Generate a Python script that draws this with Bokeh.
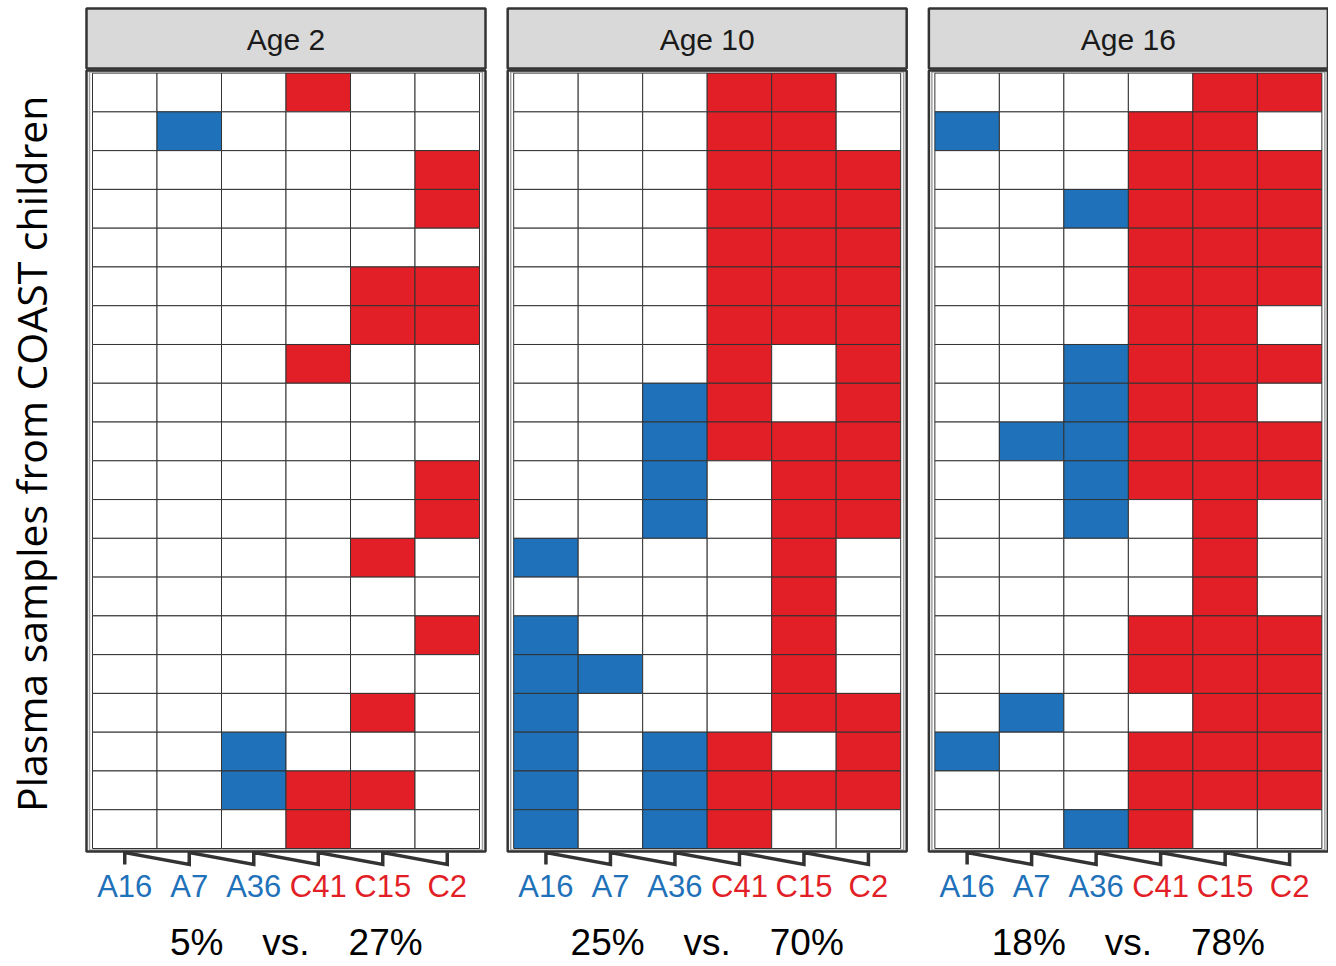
import numpy as np
from bokeh.plotting import figure
from bokeh.models import Range1d, BoxAnnotation, Label, ColumnDataSource
from bokeh.embed import file_html
from bokeh.resources import INLINE

# ---------------- data ----------------
antigens = ["A16", "A7", "A36", "C41", "C15", "C2"]
antigen_group = ["A", "A", "A", "C", "C", "C"]
panel_titles = ["Age 2", "Age 10", "Age 16"]

# rows listed top to bottom (20 plasma samples), columns follow `antigens`; 1 = positive
age2 = [
    [0, 0, 0, 1, 0, 0],
    [0, 1, 0, 0, 0, 0],
    [0, 0, 0, 0, 0, 1],
    [0, 0, 0, 0, 0, 1],
    [0, 0, 0, 0, 0, 0],
    [0, 0, 0, 0, 1, 1],
    [0, 0, 0, 0, 1, 1],
    [0, 0, 0, 1, 0, 0],
    [0, 0, 0, 0, 0, 0],
    [0, 0, 0, 0, 0, 0],
    [0, 0, 0, 0, 0, 1],
    [0, 0, 0, 0, 0, 1],
    [0, 0, 0, 0, 1, 0],
    [0, 0, 0, 0, 0, 0],
    [0, 0, 0, 0, 0, 1],
    [0, 0, 0, 0, 0, 0],
    [0, 0, 0, 0, 1, 0],
    [0, 0, 1, 0, 0, 0],
    [0, 0, 1, 1, 1, 0],
    [0, 0, 0, 1, 0, 0],
]
age10 = [
    [0, 0, 0, 1, 1, 0],
    [0, 0, 0, 1, 1, 0],
    [0, 0, 0, 1, 1, 1],
    [0, 0, 0, 1, 1, 1],
    [0, 0, 0, 1, 1, 1],
    [0, 0, 0, 1, 1, 1],
    [0, 0, 0, 1, 1, 1],
    [0, 0, 0, 1, 0, 1],
    [0, 0, 1, 1, 0, 1],
    [0, 0, 1, 1, 1, 1],
    [0, 0, 1, 0, 1, 1],
    [0, 0, 1, 0, 1, 1],
    [1, 0, 0, 0, 1, 0],
    [0, 0, 0, 0, 1, 0],
    [1, 0, 0, 0, 1, 0],
    [1, 1, 0, 0, 1, 0],
    [1, 0, 0, 0, 1, 1],
    [1, 0, 1, 1, 0, 1],
    [1, 0, 1, 1, 1, 1],
    [1, 0, 1, 1, 0, 0],
]
age16 = [
    [0, 0, 0, 0, 1, 1],
    [1, 0, 0, 1, 1, 0],
    [0, 0, 0, 1, 1, 1],
    [0, 0, 1, 1, 1, 1],
    [0, 0, 0, 1, 1, 1],
    [0, 0, 0, 1, 1, 1],
    [0, 0, 0, 1, 1, 0],
    [0, 0, 1, 1, 1, 1],
    [0, 0, 1, 1, 1, 0],
    [0, 1, 1, 1, 1, 1],
    [0, 0, 1, 1, 1, 1],
    [0, 0, 1, 0, 1, 0],
    [0, 0, 0, 0, 1, 0],
    [0, 0, 0, 0, 1, 0],
    [0, 0, 0, 1, 1, 1],
    [0, 0, 0, 1, 1, 1],
    [0, 1, 0, 0, 1, 1],
    [1, 0, 0, 1, 1, 1],
    [0, 0, 0, 1, 1, 1],
    [0, 0, 1, 1, 0, 0],
]
panels = [age2, age10, age16]
y_label = "Plasma samples from COAST children"

# ---------------- style / layout ----------------
BLUE = "#1F72B9"
RED = "#E21F27"
group_color = {"A": BLUE, "C": RED}
DARK = "#333333"
STRIP_FILL = "#D9D9D9"

W, H = 1328, 964
PPU_X = 64.5          # px per column
PPU_Y = 38.77         # px per row
CELLS_LEFT_PX = 92    # screen x of first panel's cells
CELLS_BOTTOM_PX = 848 # screen y of cells bottom
N_ROWS = len(age2)
N_COLS = len(antigens)
STEP = 6.53           # panel step in column units


def dx(pxv):
    return pxv / PPU_X


def dy(pxv):
    return pxv / PPU_Y


x0 = -dx(CELLS_LEFT_PX)
y0 = -dy(H - CELLS_BOTTOM_PX)
p = figure(width=W, height=H, output_backend="svg", toolbar_location=None,
           x_range=Range1d(x0, x0 + dx(W)), y_range=Range1d(y0, y0 + dy(H)),
           x_axis_location=None, y_axis_location=None,
           min_border=0, min_border_left=0, min_border_right=0,
           min_border_top=0, min_border_bottom=0)
p.xgrid.visible = False
p.ygrid.visible = False
p.outline_line_color = None
p.background_fill_color = "white"
p.border_fill_color = "white"

X_PAD = dx(6)

xs, ys, colors = [], [], []
for k, mat in enumerate(panels):
    off = k * STEP
    for r, rowvals in enumerate(mat):
        for c, v in enumerate(rowvals):
            xs.append(off + c + 0.5)
            ys.append(N_ROWS - 1 - r + 0.5)
            colors.append(group_color[antigen_group[c]] if v else "white")
src = ColumnDataSource(dict(x=xs, y=ys, color=colors))
p.rect("x", "y", width=1, height=1, source=src, fill_color="color",
       line_color=DARK, line_width=1)

for k, (mat, title) in enumerate(zip(panels, panel_titles)):
    off = k * STEP
    left, right = off - X_PAD, off + N_COLS + X_PAD

    # thin grey inner panel border
    p.add_layout(BoxAnnotation(left=off - dx(3), right=off + N_COLS + dx(3), bottom=-dy(1.5),
                               top=N_ROWS + dy(1), fill_alpha=0, line_color="#A0A0A0",
                               line_alpha=1, line_width=1.5))
    # panel border
    p.add_layout(BoxAnnotation(left=left, right=right, bottom=-dy(3), top=N_ROWS + dy(2.6),
                               fill_alpha=0, line_color=DARK, line_alpha=1, line_width=2.5))
    # facet strip
    p.add_layout(BoxAnnotation(left=left, right=right, bottom=N_ROWS + dy(4.6), top=N_ROWS + dy(64.5),
                               fill_color=STRIP_FILL, fill_alpha=1, line_color=DARK,
                               line_alpha=1, line_width=2.5))
    p.add_layout(Label(x=off + N_COLS / 2, y=N_ROWS + dy(34), text=title, text_align="center",
                       text_baseline="middle", text_font="Liberation Sans",
                       text_font_size="30px", text_color="#1a1a1a"))

    # zigzag ticks
    t_top, t_bot = -dy(4), -dy(16)
    zx, zy = [], []
    for c in range(N_COLS):
        xc = off + c + 0.5
        zx += [xc, xc]
        zy += [t_bot, t_top]
    p.line(zx, zy, line_color=DARK, line_width=3.5, line_join="miter")

    # colored tick labels
    for c, name in enumerate(antigens):
        p.add_layout(Label(x=off + c + 0.5, y=-dy(38), text=name, text_align="center",
                           text_baseline="middle", text_font="Liberation Sans",
                           text_font_size="31px", text_color=group_color[antigen_group[c]]))

    # percentages of positive cells per antigen group
    arr = np.array(mat)
    a_cols = [i for i, g in enumerate(antigen_group) if g == "A"]
    c_cols = [i for i, g in enumerate(antigen_group) if g == "C"]
    a_pct = round(100 * arr[:, a_cols].sum() / arr[:, a_cols].size)
    c_pct = round(100 * arr[:, c_cols].sum() / arr[:, c_cols].size)
    for txt, xx, al in [(f"{a_pct}%", 2.03, "right"), ("vs.", 3.0, "center"), (f"{c_pct}%", 3.97, "left")]:
        p.add_layout(Label(x=off + xx, y=-dy(94), text=txt, text_align=al, text_baseline="middle",
                           text_font="Liberation Sans", text_font_size="37px", text_color="black"))

p.add_layout(Label(x=x0 + dx(30), y=N_ROWS / 2 + dy(7), text=y_label, angle=np.pi / 2,
                   text_align="center", text_baseline="middle", text_font="Open Sans",
                   text_font_size="41px", text_color="black"))

open("out.html", "w").write(file_html(p, INLINE))
